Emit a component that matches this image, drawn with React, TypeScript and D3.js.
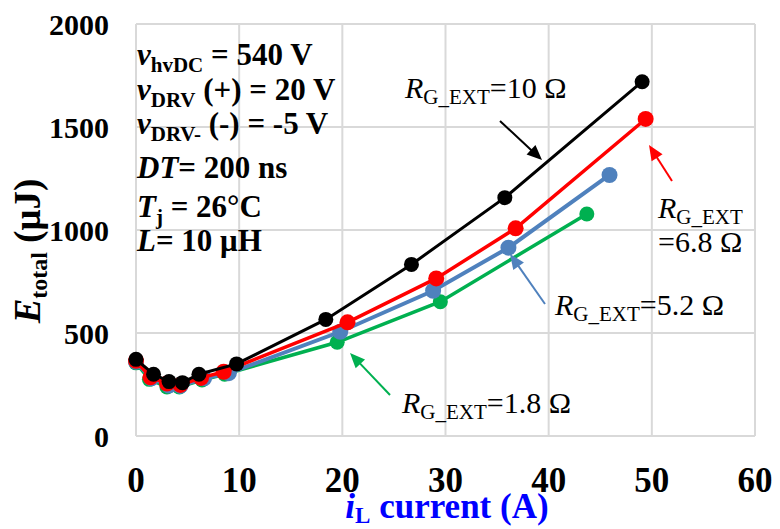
import React from 'react';
import * as d3 from 'd3';

// ---- Data ----
const xTicks = [0, 10, 20, 30, 40, 50, 60];
const yTicks = [0, 500, 1000, 1500, 2000];

const iL_R18 = [0, 1.3, 3.0, 4.2, 6.4, 8.6, 19.5, 29.5, 43.7];
const E_R18 = [355, 275, 238, 238, 272, 300, 455, 652, 1078];

const iL_R52 = [0, 1.5, 3.2, 4.3, 6.6, 9.0, 19.8, 28.8, 36.1, 45.9];
const E_R52 = [360, 280, 245, 243, 280, 305, 506, 705, 914, 1267];

const iL_R68 = [0, 1.4, 3.0, 4.3, 6.3, 8.5, 20.5, 29.1, 36.8, 49.4];
const E_R68 = [365, 285, 255, 248, 282, 312, 552, 765, 1008, 1539];

const iL_R10 = [0, 1.7, 3.2, 4.5, 6.1, 9.75, 18.4, 26.7, 35.75, 49.06];
const E_R10 = [372, 300, 264, 259, 300, 350, 566, 833, 1157, 1720];

const seriesNames = ['1.8', '5.2', '6.8', '10'];
const seriesColors = ['#00B050', '#4F81BD', '#FF0000', '#000000'];

const FONT = '"Liberation Serif", "Times New Roman", serif';

function Arrow({ x1, y1, x2, y2, color }: { x1: number; y1: number; x2: number; y2: number; color: string }) {
  const len = Math.hypot(x2 - x1, y2 - y1);
  const ux = (x2 - x1) / len;
  const uy = (y2 - y1) / len;
  const hl = 15;
  const hw = 6.5;
  const bx = x2 - ux * hl;
  const by = y2 - uy * hl;
  const px = -uy;
  const py = ux;
  return (
    <g>
      <line x1={x1} y1={y1} x2={bx + ux * 2} y2={by + uy * 2} stroke={color} strokeWidth={2} />
      <polygon
        points={`${x2},${y2} ${bx + px * hw},${by + py * hw} ${bx - px * hw},${by - py * hw}`}
        fill={color}
      />
    </g>
  );
}

function RLabel({ x, y, value, color = '#000' }: { x: number; y: number; value?: string; color?: string }) {
  return (
    <text x={x} y={y} fontFamily={FONT} fontSize={30} fill={color}>
      <tspan fontStyle="italic">R</tspan>
      <tspan fontSize={21} dy={6}>G_EXT</tspan>
      {value !== undefined && <tspan dy={-6}>{value}</tspan>}
    </text>
  );
}

export default function App() {
  const left = 136, right = 755, top = 24, bottom = 436;
  const x = d3.scaleLinear().domain([0, 60]).range([left, right]);
  const y = d3.scaleLinear().domain([0, 2000]).range([bottom, top]);

  const series = [
    { xs: iL_R18, ys: E_R18, lw: 3.5, r: 7.5 },
    { xs: iL_R52, ys: E_R52, lw: 4, r: 8 },
    { xs: iL_R68, ys: E_R68, lw: 3.5, r: 8 },
    { xs: iL_R10, ys: E_R10, lw: 3, r: 7.5 },
  ];

  const line = d3
    .line<[number, number]>()
    .x((d) => x(d[0]))
    .y((d) => y(d[1]));

  return (
    <svg width={780} height={529} style={{ position: 'absolute', left: 0, top: 0, background: '#fff' }}>
      <rect x={0} y={0} width={780} height={529} fill="#fff" />
      {/* grid */}
      {xTicks.map((t) => (
        <line key={'gx' + t} x1={x(t)} x2={x(t)} y1={top} y2={bottom} stroke="#D9D9D9" strokeWidth={2} />
      ))}
      {yTicks.map((t) => (
        <line key={'gy' + t} x1={left} x2={right} y1={y(t)} y2={y(t)} stroke="#D9D9D9" strokeWidth={2} />
      ))}

      {/* tick labels */}
      {yTicks.map((t) => (
        <text key={'ty' + t} x={109} y={y(t)} dy="0.36em" textAnchor="end" fontFamily={FONT} fontWeight="bold" fontSize={30} fill="#000">
          {t}
        </text>
      ))}
      {xTicks.map((t) => (
        <text key={'tx' + t} x={x(t)} y={492} textAnchor="middle" fontFamily={FONT} fontWeight="bold" fontSize={35} fill="#000">
          {t}
        </text>
      ))}

      {/* axis titles */}
      <text x={447} y={518} textAnchor="middle" fontFamily={FONT} fontWeight="bold" fontSize={35} fill="#0000FF">
        <tspan fontStyle="italic">i</tspan>
        <tspan fontSize={23} dy={5}>L</tspan>
        <tspan dy={-5}> current (A)</tspan>
      </text>
      <text transform="translate(40,251) rotate(-90)" textAnchor="middle" fontFamily={FONT} fontWeight="bold" fontSize={37} fill="#000">
        <tspan fontStyle="italic">E</tspan>
        <tspan fontSize={24} dy={7}>total</tspan>
        <tspan dy={-7}> (μJ)</tspan>
      </text>

      {/* series */}
      {series.map((s, i) => {
        const pts = s.xs.map((v, j) => [v, s.ys[j]] as [number, number]);
        return (
          <g key={seriesNames[i]}>
            <path d={line(pts) || ''} fill="none" stroke={seriesColors[i]} strokeWidth={s.lw} />
            {pts.map((p, j) => (
              <circle key={j} cx={x(p[0])} cy={y(p[1])} r={s.r} fill={seriesColors[i]} />
            ))}
          </g>
        );
      })}

      {/* condition annotations */}
      <g fontFamily={FONT} fontWeight="bold" fontSize={31} fill="#000">
        <text x={137} y={65}>
          <tspan fontStyle="italic">v</tspan>
          <tspan fontSize={21} dy={7}>hvDC</tspan>
          <tspan dy={-7}> = 540 V</tspan>
        </text>
        <text x={137} y={100}>
          <tspan fontStyle="italic">v</tspan>
          <tspan fontSize={21} dy={7}>DRV</tspan>
          <tspan dy={-7}> (+) = 20 V</tspan>
        </text>
        <text x={137} y={134}>
          <tspan fontStyle="italic">v</tspan>
          <tspan fontSize={21} dy={7}>DRV-</tspan>
          <tspan dy={-7}> (-) = -5 V</tspan>
        </text>
        <text x={137} y={178}>
          <tspan fontStyle="italic">DT</tspan>
          <tspan>= 200 ns</tspan>
        </text>
        <text x={137} y={217}>
          <tspan fontStyle="italic">T</tspan>
          <tspan fontSize={21} dy={7}>j</tspan>
          <tspan dy={-7}> = 26°C</tspan>
        </text>
        <text x={137} y={251}>
          <tspan fontStyle="italic">L</tspan>
          <tspan>= 10 μH</tspan>
        </text>
      </g>

      {/* series labels + arrows */}
      <RLabel x={405} y={98} value="=10 Ω" />
      <Arrow x1={500} y1={121} x2={542} y2={160} color="#000" />

      <RLabel x={658} y={218} />
      <text x={658} y={252} fontFamily={FONT} fontSize={30} fill="#000">=6.8 Ω</text>
      <Arrow x1={672} y1={181} x2={649} y2={145} color="#FF0000" />

      <RLabel x={555} y={315} value="=5.2 Ω" />
      <Arrow x1={545} y1={304} x2={510} y2={254} color="#4F81BD" />

      <RLabel x={402} y={413} value="=1.8 Ω" />
      <Arrow x1={390} y1={395} x2={350} y2={353} color="#00B050" />
    </svg>
  );
}
